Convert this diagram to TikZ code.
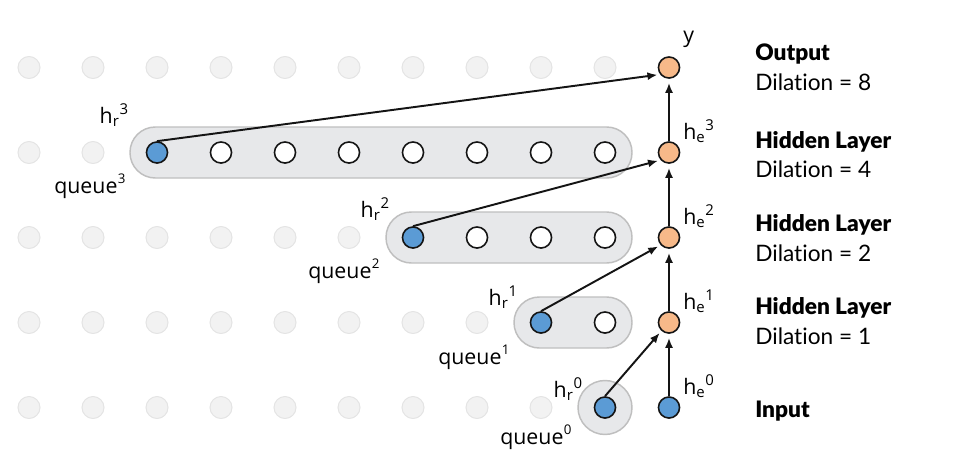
\documentclass[tikz,border=0pt]{standalone}
\usepackage{fontspec}
\setmainfont{Open Sans}
\newfontfamily\rfont{Lato}[BoldFont={Lato Black}, Ligatures=NoCommon]
\usetikzlibrary{arrows.meta}
\definecolor{dotfill}{RGB}{242,242,242}
\definecolor{dotdraw}{RGB}{228,228,228}
\definecolor{capfill}{RGB}{231,232,234}
\definecolor{capdraw}{RGB}{191,191,191}
\definecolor{blu}{RGB}{91,155,213}
\definecolor{org}{RGB}{247,185,137}
\definecolor{ink}{RGB}{20,20,20}
\tikzset{
  gdot/.style={circle, minimum size=16.5pt, inner sep=0pt, fill=dotfill, draw=dotdraw, line width=0.75pt},
  nd/.style={circle, minimum size=15.8pt, inner sep=0pt, draw=ink, line width=1.2pt},
  bnode/.style={nd, fill=blu},
  onode/.style={nd, fill=org},
  wnode/.style={nd, fill=white},
  capsule/.style={fill=capfill, draw=capdraw, line width=1.1pt},
  arr/.style={-{Latex[length=7.5pt,width=6pt]}, line width=1.45pt, draw=ink, shorten >=2pt},
  lblr/.style={font=\fontsize{16}{18}\selectfont, inner sep=0pt, anchor=base east},
  lbll/.style={font=\fontsize{16}{18}\selectfont, inner sep=0pt, anchor=base west},
  ttl/.style={font=\rfont\bfseries\fontsize{17}{20}\selectfont, inner sep=0pt, anchor=base west},
  sub/.style={font=\rfont\fontsize{17}{20}\selectfont, inner sep=0pt, anchor=base west},
}
\newcommand{\hlab}[2]{h\textsubscript{#1}\textsuperscript{#2}}
\newcommand{\qlab}[1]{queue\kern0.3pt\raisebox{0.45em}{\fontsize{10}{10}\selectfont #1}}
\begin{document}
\begin{tikzpicture}[x=0.75pt,y=-0.75pt]
\useasboundingbox (0,0) rectangle (960,475);
% capsules
\draw[capsule, rounded corners=19pt] (130,127) rectangle (632,178);
\draw[capsule, rounded corners=19pt] (386,212) rectangle (632,263);
\draw[capsule, rounded corners=19pt] (514,297) rectangle (632,348);
\draw[capsule] (605,407.5) circle[radius=27];
% gray dots
\foreach \k in {0,...,9} \node[gdot] (ga\k) at ({29+64*\k},67.5) {};
\foreach \k in {0,1} \node[gdot] (gb\k) at ({29+64*\k},152.5) {};
\foreach \k in {0,...,5} \node[gdot] (gc\k) at ({29+64*\k},237.5) {};
\foreach \k in {0,...,7} \node[gdot] (gd\k) at ({29+64*\k},322.5) {};
\foreach \k in {0,...,8} \node[gdot] (ge\k) at ({29+64*\k},407.5) {};
% queue nodes
\node[bnode] (r3) at (157,152.5) {};
\foreach \k in {3,...,9} \node[wnode] (q3w\k) at ({29+64*\k},152.5) {};
\node[bnode] (r2) at (413,237.5) {};
\foreach \k in {7,8,9} \node[wnode] (q2w\k) at ({29+64*\k},237.5) {};
\node[bnode] (r1) at (541,322.5) {};
\node[wnode] (q1w9) at (605,322.5) {};
\node[bnode] (r0) at (605,407.5) {};
% main column
\node[onode] (y) at (669,67.5) {};
\node[onode] (e3) at (669,152.5) {};
\node[onode] (e2) at (669,237.5) {};
\node[onode] (e1) at (669,322.5) {};
\node[bnode] (e0) at (669,407.5) {};
% arrows
\draw[arr] (r3.north) -- (y.218);
\draw[arr] (r2.north) -- (e3.222);
\draw[arr] (r1.north) -- (e2.222);
\draw[arr] (r0.north) -- (e1.228);
\draw[arr, shorten >=3pt] (e0.north) -- (e1.south);
\draw[arr, shorten >=3pt] (e1.north) -- (e2.south);
\draw[arr, shorten >=3pt] (e2.north) -- (e3.south);
\draw[arr, shorten >=3pt] (e3.north) -- (y.south);
% labels
\node[lblr] (lr3) at (129,123) {\hlab{r}{3}};
\node[lblr] (lr2) at (390,217) {\hlab{r}{2}};
\node[lblr] (lr1) at (518,305) {\hlab{r}{1}};
\node[lblr] (lr0) at (583,397) {\hlab{r}{0}};
\node[lbll] (lq3) at (54,193) {\qlab{3}};
\node[lbll] (lq2) at (308,278) {\qlab{2}};
\node[lbll] (lq1) at (438,364) {\qlab{1}};
\node[lbll] (lq0) at (500,444) {\qlab{0}};
\node[lbll] (ly) at (683,42) {y};
\node[lbll] (le3) at (683,139) {\hlab{e}{3}};
\node[lbll] (le2) at (683,224) {\hlab{e}{2}};
\node[lbll] (le1) at (683,309) {\hlab{e}{1}};
\node[lbll] (le0) at (683,394) {\hlab{e}{0}};
% right texts
\node[ttl] (t0) at (755,60) {Output};
\node[sub] (s0) at (755,90) {Dilation = 8};
\node[ttl] (t1) at (755,148) {Hidden Layer};
\node[sub] (s1) at (755,177) {Dilation = 4};
\node[ttl] (t2) at (755,231) {Hidden Layer};
\node[sub] (s2) at (755,261) {Dilation = 2};
\node[ttl] (t3) at (755,314) {Hidden Layer};
\node[sub] (s3) at (755,344) {Dilation = 1};
\node[ttl] (t4) at (755,417) {Input};
\end{tikzpicture}
\end{document}
